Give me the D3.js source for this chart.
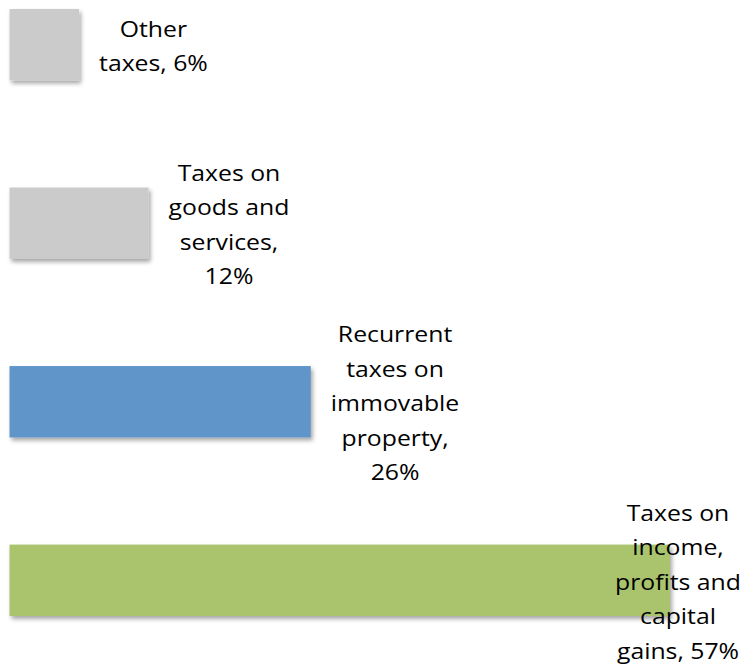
<!DOCTYPE html>
<html>
<head>
<meta charset="utf-8">
<script src="https://cdn.jsdelivr.net/npm/d3@7"></script>
<style>
  html, body { margin: 0; padding: 0; background: #fff; }
  svg { display: block; }
</style>
</head>
<body>
<div id="chart"></div>
<script>
// Tax revenue composition, top to bottom
const categories = [
  "Other|taxes",
  "Taxes on|goods and|services",
  "Recurrent|taxes on|immovable|property",
  "Taxes on|income,|profits and|capital|gains"
];
const values = [6, 12, 26, 57];
// joiner between the category text and its value ("|" = new line)
const valueJoin = [", ", ",|", ",|", ", "];
const colors = ["#cbcbcb", "#cbcbcb", "#6095c9", "#aac46e"];

const W = 743, H = 666;
const svg = d3.select("#chart").append("svg")
  .attr("width", W).attr("height", H);

const defs = svg.append("defs");
const f = defs.append("filter").attr("id", "shadow")
  .attr("x", "-10%").attr("y", "-20%").attr("width", "130%").attr("height", "160%");
f.append("feDropShadow")
  .attr("dx", 2).attr("dy", 3).attr("stdDeviation", 2.2)
  .attr("flood-color", "#000").attr("flood-opacity", 0.35);

const x = d3.scaleLinear().domain([0, 57]).range([9.5, 670]);
const y = d3.scaleBand().domain(d3.range(categories.length))
  .range([9, 616]).paddingInner(0.6).paddingOuter(0);

const rows = categories.map((c, i) => ({
  i, value: values[i], color: colors[i],
  lines: (c + valueJoin[i] + values[i] + "%").split("|")
}));

svg.append("g").selectAll("rect").data(rows).join("rect")
  .attr("x", x(0))
  .attr("y", d => y(d.i))
  .attr("width", d => x(d.value) - x(0))
  .attr("height", y.bandwidth())
  .attr("fill", d => d.color)
  .attr("filter", "url(#shadow)");

const lineH = 34.5;
const labels = svg.append("g")
  .attr("font-family", "'Open Sans', sans-serif")
  .attr("font-size", 21)
  .attr("fill", "#000");

rows.forEach(d => {
  const g = labels.append("g");
  const t = g.append("text").attr("text-anchor", "middle");
  const n = d.lines.length;
  d.lines.forEach((ln, k) => {
    t.append("tspan").attr("x", 0)
      .attr("y", (k - (n - 1) / 2) * lineH)
      .attr("dy", "0.35em")
      .text(ln);
  });
  const sx = 1.18;
  const w = t.node().getBBox().width * sx;
  const yc = y(d.i) + y.bandwidth() / 2 + 2;
  let cx = x(d.value) + 20 + w / 2;
  cx = Math.min(cx, W - 2 - w / 2);
  g.attr("transform", `translate(${cx},${yc}) scale(${sx},1)`);
});
</script>
</body>
</html>
